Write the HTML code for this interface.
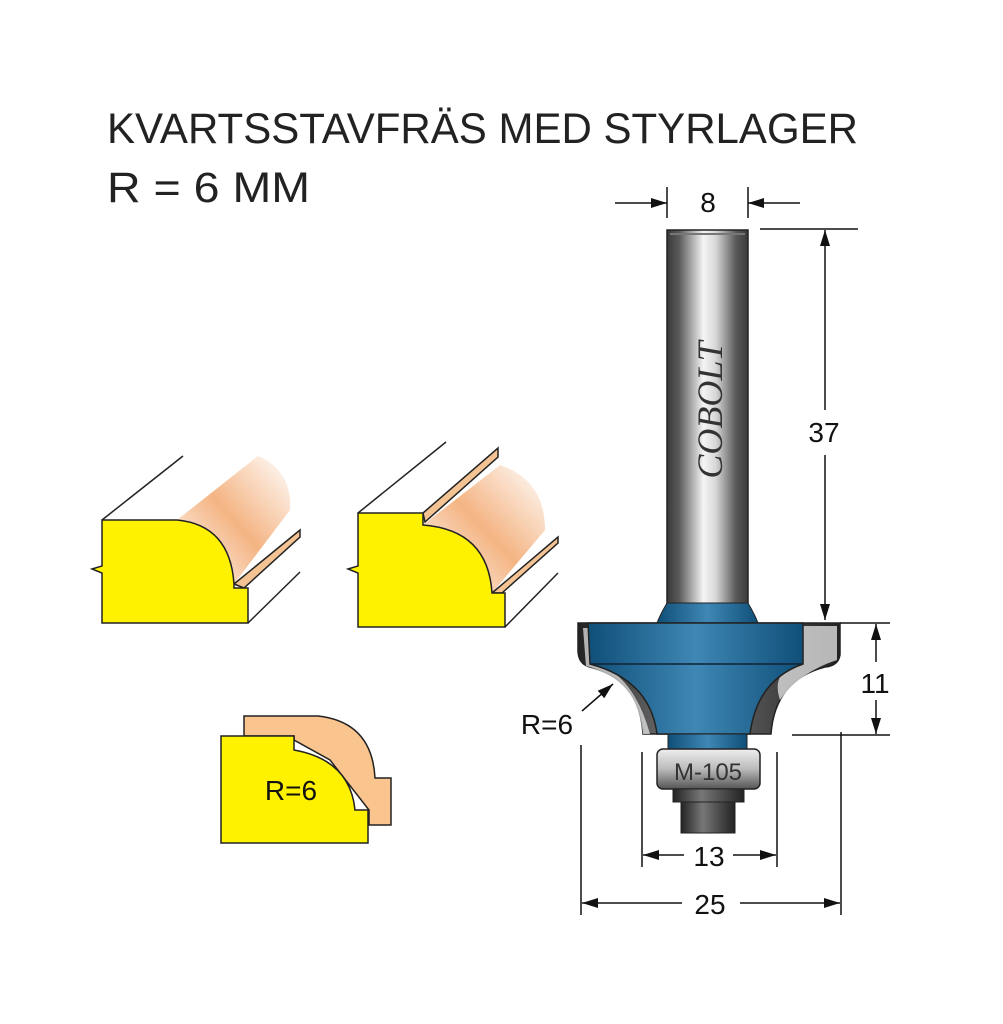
<!DOCTYPE html>
<html><head><meta charset="utf-8"><style>html,body{margin:0;padding:0;background:#fff}svg{display:block}</style></head>
<body>
<svg width="1003" height="1024" viewBox="0 0 1003 1024" xmlns="http://www.w3.org/2000/svg" font-family="Liberation Sans, sans-serif">
<defs>
<linearGradient id="steel" x1="0" x2="1" y1="0" y2="0">
<stop offset="0" stop-color="#3a3a3a"/><stop offset="0.15" stop-color="#5a5a5a"/><stop offset="0.45" stop-color="#f4f4f4"/><stop offset="0.6" stop-color="#d8d8d8"/><stop offset="0.85" stop-color="#5a5a5a"/><stop offset="1" stop-color="#3a3a3a"/>
</linearGradient>
<linearGradient id="blue" x1="0" x2="1" y1="0" y2="0">
<stop offset="0" stop-color="#0f4f78"/><stop offset="0.5" stop-color="#3f87b5"/><stop offset="1" stop-color="#0f4f78"/>
</linearGradient>
<linearGradient id="dark" x1="0" x2="1" y1="0" y2="0">
<stop offset="0" stop-color="#222"/><stop offset="0.4" stop-color="#777"/><stop offset="1" stop-color="#222"/>
</linearGradient>
<linearGradient id="bear" x1="0" x2="0" y1="0" y2="1">
<stop offset="0" stop-color="#eee"/><stop offset="0.5" stop-color="#bbb"/><stop offset="1" stop-color="#555"/>
</linearGradient>
<linearGradient id="wood" x1="0" x2="1" y1="1" y2="0">
<stop offset="0" stop-color="#fff"/><stop offset="0.5" stop-color="#f4b483"/><stop offset="1" stop-color="#fff"/>
</linearGradient>
<marker id="ab" viewBox="0 0 16 10" refX="16" refY="5" markerWidth="16" markerHeight="10" markerUnits="userSpaceOnUse" orient="auto"><path d="M0,0 L16,5 L0,10 Z" fill="#111"/></marker>
</defs>

<text x="107" y="143" font-size="43" fill="#222" textLength="751" lengthAdjust="spacingAndGlyphs">KVARTSSTAVFRÄS MED STYRLAGER</text>
<text x="107" y="202" font-size="43" fill="#222" textLength="203" lengthAdjust="spacingAndGlyphs">R = 6 MM</text>

<!-- profile 1 -->
<g stroke="#222" stroke-width="1.5" fill="none">
<path d="M177,520 L258,456 Q292,470 290,510 L234,584 Z" fill="url(#wood)" stroke="none"/>
<line x1="102" y1="520" x2="183" y2="456"/>
<path d="M234,584 L300,530 L300,537 L244,588 Z" fill="#f4c393"/>
<line x1="248" y1="623" x2="300" y2="572"/>
<path d="M102,520 H177 Q230,525 234,584 V588 H248 V623 H102 V573 L92,569 L102,566 Z" fill="#fff200"/>
</g>
<!-- profile 2 -->
<g stroke="#222" stroke-width="1.5" fill="none">
<path d="M423,525 L500,465 Q545,480 545,530 L492,593 Z" fill="url(#wood)" stroke="none"/>
<line x1="358" y1="513" x2="446" y2="442"/>
<path d="M423,513 L498,448 L498,457 L425,522 Z" fill="#f4c393"/>
<path d="M492,593 L558,537 L558,543 L502,593 Z" fill="#f4c393"/>
<line x1="505" y1="627" x2="558" y2="573"/>
<path d="M358,513 H423 V525 Q488,530 492,593 H505 V627 H358 V573 L348,569 L358,566 Z" fill="#fff200"/>
</g>
<!-- small section -->
<g stroke="#222" stroke-width="1.5">
<path d="M244,736 V716 H318 Q372,722 375,778 H391 V825 H369 V810 L330,760 L294,740 V736 Z" fill="#f9c48e"/>
<path d="M221,736 H294 V750 Q350,760 355,810 H368 V843 H221 Z" fill="#fff200"/>
</g>
<text x="291" y="800" font-size="28" text-anchor="middle" fill="#111">R=6</text>

<!-- cutter -->
<rect x="667" y="230" width="81" height="375" fill="url(#steel)" stroke="#222" stroke-width="1.5"/>
<line x1="670" y1="234" x2="745" y2="234" stroke="#777" stroke-width="2"/>
<text transform="translate(722,410) rotate(-90)" font-family="Liberation Serif, serif" font-style="italic" font-size="36" fill="#333" text-anchor="middle">COBOLT</text>
<path d="M667,603 Q660,615 657,623 H758 Q755,615 748,603 Z" fill="url(#blue)" stroke="#222" stroke-width="1"/>
<path d="M578,623 H840 V655 Q838,666 825,667 Q775,680 771,734 H643 Q640,680 590,667 Q578,664 578,650 Z" fill="url(#dark)" stroke="#222" stroke-width="1.5"/>
<path d="M583,628 H600 V664 Q635,680 650,734 H643 Q638,680 586,666 Z" fill="#eee" opacity="0.7"/>
<path d="M803,626 H837 V660 Q800,672 780,700 Q770,670 803,663 Z" fill="#ddd" opacity="0.8"/>
<path d="M588,623 H803 V664 Q757,680 750,734 H657 Q650,680 590,664 Z" fill="url(#blue)" stroke="#222" stroke-width="1.5"/>
<line x1="590" y1="664" x2="803" y2="664" stroke="#123" stroke-width="1.5"/>
<rect x="668" y="734" width="79" height="16" fill="url(#blue)" stroke="#222"/>
<rect x="657" y="749" width="103" height="40" rx="6" fill="url(#bear)" stroke="#222" stroke-width="1.5"/>
<text x="708" y="780" font-size="24" text-anchor="middle" fill="#333">M-105</text>
<rect x="673" y="789" width="71" height="13" fill="url(#dark)" stroke="#222"/>
<rect x="681" y="802" width="54" height="31" fill="url(#dark)" stroke="#222"/>

<!-- dims -->
<g stroke="#111" stroke-width="1.5" fill="none">
<line x1="667" y1="187" x2="667" y2="218"/><line x1="748" y1="187" x2="748" y2="218"/>
<line x1="615" y1="203" x2="667" y2="203" marker-end="url(#ab)"/>
<line x1="800" y1="203" x2="748" y2="203" marker-end="url(#ab)"/>
<line x1="760" y1="229" x2="858" y2="229"/>
<line x1="825" y1="410" x2="825" y2="230" marker-end="url(#ab)"/>
<line x1="825" y1="455" x2="825" y2="620" marker-end="url(#ab)"/>
<line x1="840" y1="623" x2="890" y2="623"/>
<line x1="792" y1="735" x2="890" y2="735"/>
<line x1="876" y1="662" x2="876" y2="624" marker-end="url(#ab)"/>
<line x1="876" y1="700" x2="876" y2="734" marker-end="url(#ab)"/>
<line x1="642" y1="752" x2="642" y2="867"/><line x1="777" y1="752" x2="777" y2="867"/>
<line x1="684" y1="855" x2="643" y2="855" marker-end="url(#ab)"/>
<line x1="733" y1="855" x2="776" y2="855" marker-end="url(#ab)"/>
<line x1="581" y1="745" x2="581" y2="915"/><line x1="841" y1="732" x2="841" y2="915"/>
<line x1="682" y1="903" x2="582" y2="903" marker-end="url(#ab)"/>
<line x1="740" y1="903" x2="840" y2="903" marker-end="url(#ab)"/>
<line x1="582" y1="711" x2="613" y2="684" marker-end="url(#ab)"/>
</g>
<g font-size="28" fill="#111" text-anchor="middle">
<text x="708" y="212">8</text>
<text x="824" y="442">37</text>
<text x="875" y="693">11</text>
<text x="709" y="866">13</text>
<text x="710" y="914">25</text>
<text x="547" y="734">R=6</text>
</g>
</svg>
</body></html>
